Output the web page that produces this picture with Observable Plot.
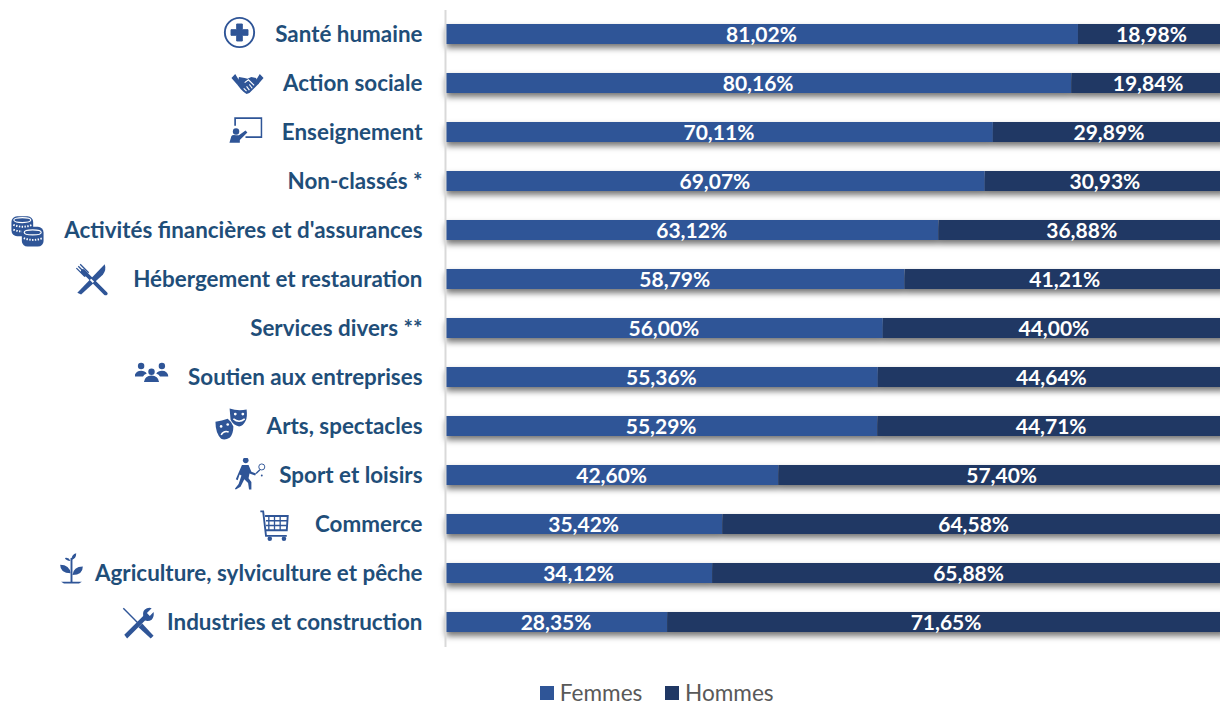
<!DOCTYPE html>
<html lang="fr"><head><meta charset="utf-8">
<script src="https://cdn.jsdelivr.net/npm/d3@7"></script>
<script src="https://cdn.jsdelivr.net/npm/@observablehq/plot@0.6"></script>
<style>
html,body{margin:0;padding:0;background:#fff;overflow:hidden}
#c{width:1220px}
#c svg{display:block;font-family:Lato,sans-serif}
#legend{display:flex;justify-content:center;padding-left:116px;padding-top:2px}
#legend>div{font-family:Lato,sans-serif!important;font-size:22.6px!important;line-height:1;color:#595959;min-height:0!important;margin:0!important;gap:0}
#legend span svg{margin-right:6px!important}
</style></head><body><div id="c"></div><div id="legend"></div>
<script>
const categories = ["Santé humaine","Action sociale","Enseignement","Non-classés *","Activités financières et d'assurances","Hébergement et restauration","Services divers **","Soutien aux entreprises","Arts, spectacles","Sport et loisirs","Commerce","Agriculture, sylviculture et pêche","Industries et construction"];
const femmes = [81.02,80.16,70.11,69.07,63.12,58.79,56.00,55.36,55.29,42.60,35.42,34.12,28.35];
const hommes = [18.98,19.84,29.89,30.93,36.88,41.21,44.00,44.64,44.71,57.40,64.58,65.88,71.65];
const series = ["Femmes","Hommes"];
const colors = ["#2f5597","#203864"];
const textColor = "#1f4e79", iconColor = "#2f5597";

const rows = series.flatMap((s,k)=>categories.map((c,i)=>({cat:c,sex:s,v:(k?hommes:femmes)[i]})));
const fmt = v => v.toFixed(2).replace(".",",")+"%";

// icon glyphs, drawn in a 36x36 box
const g = iconColor;
const glyphs = {
 "Santé humaine":`<circle cx="18" cy="18" r="15.500" fill="none" stroke="${g}" stroke-width="2"/><path d="M15 9h6v6h6v6h-6v6h-6v-6H9v-6h6z" fill="${g}" stroke="${g}" stroke-linejoin="round"/>`,
 "Action sociale":`<path d="M1 11l4-4 5 8-3 3zM35 11l-4-4-5 8 3 3z" fill="${g}"/><path d="M9 10l6 1 3 1 4-2 5 1 3 6-6 6-4 4-3 1-3-2-3-3-4-5z" fill="${g}"/><path d="M15 16l4-3 6 6M14 22l3 3M17 20l3 4M20 18l3 4" fill="none" stroke="#fff" stroke-width="1.2"/>`,
 "Enseignement":`<path d="M7 13V5h28v20H18" fill="none" stroke="${g}" stroke-width="1.8"/><circle cx="8" cy="19" r="3.4" fill="${g}"/><path d="M1 31l2-7q1-2 5-1h3l7-5 2 2-8 8v3z" fill="${g}"/>`,
 "Activités financières et d'assurances":`<g fill="${g}"><rect x="1" y="3" width="23" height="21" rx="6"/><rect x="12" y="14" width="23" height="21" rx="6"/></g><g fill="none" stroke="#fff" stroke-width="1.2"><ellipse cx="12.500" cy="7" rx="9" ry="2.6"/><ellipse cx="23.500" cy="20" rx="9" ry="2.6"/><path d="M3 12q10 4 20 0M3 17q5 2 9 2M14 26q10 4 20 0" stroke-dasharray="1.5 1.5" stroke-width="2"/></g>`,
 "Hébergement et restauration":`<path d="M3 33L32 3q2 6-2 11L7 35z" fill="${g}"/><path d="M9 10l24 24" stroke="${g}" stroke-width="4" stroke-linecap="round"/><path d="M2 7l9 9M4 5l9 9M6 3l9 9" stroke="${g}" stroke-width="1.4"/><path d="M8 9l6 6-3 1-5-5z" fill="${g}"/><path d="M20 22l-3-3" stroke="#fff" stroke-width="2"/>`,
 "Soutien aux entreprises":`<g fill="${g}"><circle cx="7" cy="9" r="3.4"/><circle cx="29" cy="9" r="3.4"/><circle cx="18" cy="15" r="3.4"/><path d="M0 20q1-6 7-6 4 0 6 3-3 1-4 3zM36 20q-1-6-7-6-4 0-6 3 3 1 4 3zM10 26q1-7 8-7t8 7z"/></g>`,
 "Arts, spectacles":`<path d="M16 1q9 3 18 1 1 8-1 12-3 6-7 6-6-1-9-7z" fill="${g}"/><path d="M1 15q7-1 13-3 4 3 6 8 0 8-4 12-5 3-9 1-6-6-6-18z" fill="${g}"/><circle cx="22" cy="7" r="1.5" fill="#fff"/><circle cx="30" cy="7" r="1.5" fill="#fff"/><path d="M20 12q6 5 12 0" stroke="#fff" fill="none" stroke-width="1.6"/><circle cx="7" cy="20" r="1.4" fill="#fff"/><circle cx="14" cy="18" r="1.4" fill="#fff"/><path d="M7 29q3-5 8-3" stroke="#fff" fill="none" stroke-width="1.6"/>`,
 "Sport et loisirs":`<circle cx="14" cy="3" r="3" fill="${g}"/><path d="M10 8h7l3 7 5 2-1 2-6-2-1 5 3 4 0 8h-2.500l-1-7-4-4-4 8-5 3-1-1 4-5 3-9-2-1-2 6-2-1z" fill="${g}"/><circle cx="31" cy="10" r="3.200" fill="none" stroke="${g}" stroke-width="1"/><path d="M29 13l-4 4" stroke="${g}" stroke-width="1.400"/><circle cx="31" cy="19" r="1" fill="${g}"/>`,
 "Commerce":`<path d="M3 3h3l3 26h22M8 8h24l-1 15H9" fill="none" stroke="${g}" stroke-width="2"/><path d="M12 8v15M18 8v15M24 8v15M9 13h23M9 18h22" stroke="${g}" stroke-width="1.400"/><circle cx="13" cy="32" r="2.400" fill="${g}"/><circle cx="28" cy="32" r="2.400" fill="${g}"/>`,
 "Agriculture, sylviculture et pêche":`<path d="M18 34V8" stroke="${g}" stroke-width="2"/><path d="M7 33h22l-3 2H10zM17 24Q16 15 6 15q0 9 11 9zM19 26q1-9 11-9 0 9-11 9zM18 10q0-6 5-7 0 6-5 7zM17 11q-5 0-6-3 4-1 6 3z" fill="${g}"/>`,
 "Industries et construction":`<path d="M3 3l16 16" stroke="${g}" stroke-width="1.500"/><path d="M4 31L24 11q-1-6 4-8 3-1 5 0l-5 5 3 3 4-4q1 5-2 8-3 2-7 1L7 35z" fill="${g}"/><path d="M19 23l13 12 3-3-12-13z" fill="${g}"/>`
};
// horizontal / vertical centre of each icon in the layout
const iconPlace = {
 "Santé humaine":[239,-2],"Action sociale":[247,1],"Enseignement":[245,-2],"Activités financières et d'assurances":[27,0],
 "Hébergement et restauration":[91,-1],"Soutien aux entreprises":[151,-3],"Arts, spectacles":[231,-2],"Sport et loisirs":[249,-1],
 "Commerce":[274,1],"Agriculture, sylviculture et pêche":[71,-6],"Industries et construction":[137,0]
};
const iconSize = {"Agriculture, sylviculture et pêche":34};
const uri = k => "data:image/svg+xml,"+encodeURIComponent(`<svg xmlns="http://www.w3.org/2000/svg" viewBox="0 0 36 36" width="36" height="36">${glyphs[k]}</svg>`);

const L = 446;
const plot = Plot.plot({
  width:1220, height:680, marginLeft:L, marginRight:0, marginTop:10, marginBottom:33,
  style:{fontFamily:"Lato,sans-serif",overflow:"hidden"},
  x:{domain:[0,100],range:[L,1226],axis:null},
  y:{domain:categories,paddingInner:0.59,paddingOuter:0.295,label:null},
  color:{domain:series,range:colors},
  marks:[
    Plot.barX(rows,{x:"v",y:"cat",fill:"sex",order:null,imageFilter:"drop-shadow(0 4px 3px rgba(0,0,0,.55))"}),
    Plot.ruleX([0],{stroke:"#d9d9d9",strokeWidth:2,dx:-1}),
    Plot.text(rows,Plot.stackX({x:"v",y:"cat",z:"sex",order:null,text:d=>fmt(d.v),fill:"#fff",fontWeight:700,fontSize:21,dx:-1,dy:1})),
    Plot.axisY({anchor:"left",tickSize:0,tickPadding:0,dx:-24,dy:0,fontSize:22.4,fontWeight:700,color:textColor,label:null,lineWidth:Infinity}),
    ...Object.keys(iconPlace).map(k=>Plot.image([{cat:k,src:uri(k)}],{
      y:"cat",src:"src",frameAnchor:"left",dx:iconPlace[k][0]-L,dy:iconPlace[k][1],width:iconSize[k]||34,height:iconSize[k]||34}))
  ]
});
document.getElementById("c").append(plot);
document.getElementById("legend").append(Plot.legend({color:{domain:series,range:colors},legend:"swatches",swatchSize:14}));
</script></body></html>
